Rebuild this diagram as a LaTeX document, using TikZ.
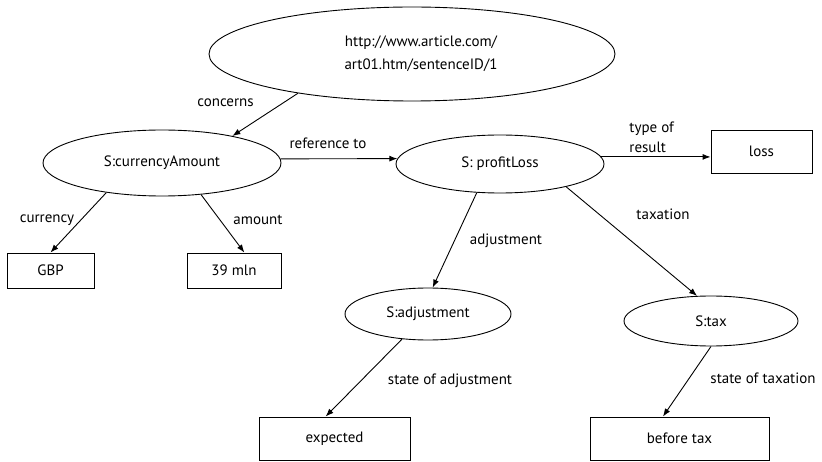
\documentclass[tikz,border=0pt]{standalone}
\usepackage{fontspec}
\setmainfont{PT Sans}
\usetikzlibrary{shapes.geometric,arrows.meta}
\begin{document}
\begin{tikzpicture}[x=1pt,y=-1pt,
  every node/.style={font=\fontsize{15}{18}\selectfont},
  ell/.style={draw,ellipse,line width=0.9pt,inner sep=0pt},
  box/.style={draw,rectangle,line width=0.9pt,inner sep=0pt},
  lbl/.style={inner sep=0pt},
  arr/.style={line width=0.9pt,-{Latex[length=8pt,width=6pt]}}]
\useasboundingbox (0,0) rectangle (822,462);
% nodes
\node[ell,minimum width=406pt,minimum height=94pt,align=center,
      font=\fontsize{15}{23}\selectfont] (top) at (412,54)
      {\hspace*{18pt}http://www.article.com/\\\hspace*{18pt}art01.htm/sentenceID/1};
\node[ell,minimum width=238pt,minimum height=66pt] (ca) at (162,163) {S:currencyAmount};
\node[ell,minimum width=208pt,minimum height=58pt] (pl) at (500,164) {S: profitLoss};
\node[ell,minimum width=166pt,minimum height=52pt] (adj) at (428,314) {S:adjustment};
\node[ell,minimum width=174pt,minimum height=50pt] (tax) at (711,321) {S:tax};
\node[box,minimum width=87pt,minimum height=35pt] (gbp) at (50.5,270.5) {GBP};
\node[box,minimum width=94pt,minimum height=35pt] (mln) at (234,270.5) {39 mln};
\node[box,minimum width=101pt,minimum height=43pt] (loss) at (761.5,151.5) {loss};
\node[box,minimum width=151pt,minimum height=43pt] (exp) at (334.5,438.5) {expected};
\node[box,minimum width=179pt,minimum height=43pt] (btax) at (679.5,438.5) {before tax};
% connectors
\draw[arr] (top.199) -- (ca.21) node[lbl] at (225.5,103) {concerns};
\draw[arr] (ca.2) -- (pl.177) node[lbl] at (328,143) {reference to};
\draw[arr] (pl.4) -- (pl.4 -| loss.west)
   node[lbl,anchor=west,align=left,font=\fontsize{15}{20}\selectfont] at (629,137) {type of\\result};
\draw[arr] (ca.208) -- (gbp.north) node[lbl] at (47,220) {currency};
\draw[arr] (ca.321) -- (mln.60) node[lbl] at (258,220) {amount};
\draw[arr] (pl.231) -- (adj.80) node[lbl] at (506,241) {adjustment};
\draw[arr] (pl.341) -- (tax.119) node[lbl] at (663,214) {taxation};
\draw[arr] (adj.224) -- (exp.112) node[lbl] at (450,381) {state of adjustment};
\draw[arr] (tax.south) -- (btax.127) node[lbl] at (763,378) {state of taxation};
\end{tikzpicture}
\end{document}
